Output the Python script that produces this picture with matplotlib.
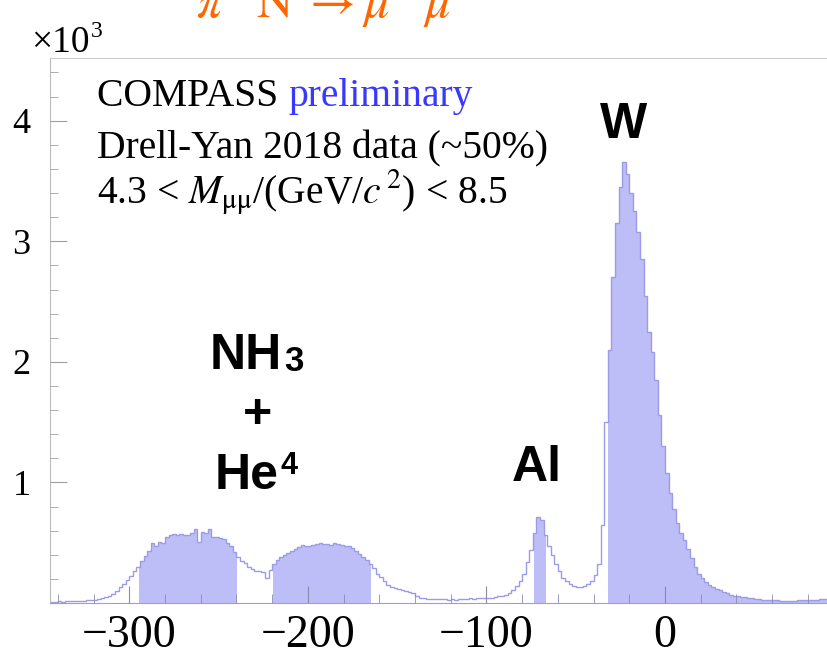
import numpy as np
import matplotlib
matplotlib.use('Agg')
import matplotlib.pyplot as plt
from matplotlib.ticker import MultipleLocator, FuncFormatter

# z vertex histogram, 2 cm bins from -344 to 92
bin_edges = np.arange(-344, 93, 2)
counts = [
    12, 10, 14, 11, 15, 13, 17, 15, 20, 18,
    24, 22, 28, 35, 42, 50, 62, 78, 100, 130,
    160, 190, 225, 262, 295, 345, 390, 430, 500, 475,
    510, 495, 550, 560, 572, 565, 575, 568, 560, 580,
    612, 505, 590, 578, 615, 548, 545, 538, 530, 500,
    470, 425, 380, 350, 330, 300, 285, 265, 262, 258,
    205, 270, 320, 360, 385, 400, 415, 435, 450, 465,
    480, 472, 470, 478, 492, 500, 488, 490, 485, 495,
    490, 480, 475, 470, 455, 430, 410, 385, 355, 320,
    290, 240, 215, 180, 150, 135, 125, 112, 105, 100,
    92, 80, 55, 45, 38, 32, 33, 30, 32, 30,
    31, 28, 32, 26, 30, 34, 32, 38, 36, 40,
    38, 42, 40, 45, 50, 55, 62, 70, 85, 105,
    140, 180, 240, 340, 440, 580, 712, 690, 560, 470,
    400, 320, 265, 210, 180, 160, 140, 130, 135, 140,
    155, 185, 230, 320, 650, 1500, 2100, 2700, 3150, 3450,
    3660, 3560, 3400, 3250, 3080, 2850, 2550, 2250, 2080, 1850,
    1560, 1300, 1080, 910, 780, 660, 580, 520, 450, 370,
    300, 240, 210, 175, 150, 135, 118, 105, 92, 82,
    70, 62, 56, 50, 47, 42, 38, 34, 30, 28,
    25, 24, 22, 21, 20, 19, 18, 20, 19, 22,
    21, 24, 23, 26, 28, 30, 31, 33,
]
counts = np.array(counts, dtype=float)

# target cells (cm): NH3 cell 1, NH3 cell 2, Al, W
target_lo = [-294.5, -219.5, -73.5, -32.0]
target_hi = [-239.5, -164.5, -66.5, 92.0]

W, H = 828, 657
fill_col = '#bdbdf7'
line_col = '#9c9ce6'

plt.rcParams['font.family'] = ['Liberation Serif', 'DejaVu Serif']
plt.rcParams['mathtext.fontset'] = 'stix'

fig = plt.figure(figsize=(W / 100, H / 100), dpi=100)


def fx(x):
    return x / W


def fy(y):
    return 1 - y / H


ax = fig.add_axes([fx(50), fy(603), (W - 50) / W, (603 - 58) / H])

# filled target regions
for lo, hi in zip(target_lo, target_hi):
    sel = (bin_edges[1:] > lo) & (bin_edges[:-1] < hi)
    idx = np.where(sel)[0]
    e = np.clip(bin_edges[idx[0]:idx[-1] + 2], lo, hi)
    ax.stairs(counts[idx], e, fill=True, color=fill_col, lw=0, zorder=1)

ax.stairs(counts, bin_edges, color=line_col, lw=1.0, zorder=2)

ax.set_xlim(-344.4, 91.3)
ax.set_ylim(0, 4520)

ax.xaxis.set_major_locator(MultipleLocator(100))
ax.xaxis.set_minor_locator(MultipleLocator(20))
ax.yaxis.set_major_locator(MultipleLocator(1000))
ax.yaxis.set_minor_locator(MultipleLocator(200))
ax.xaxis.set_major_formatter(FuncFormatter(lambda v, p: f'{int(round(v))}'.replace('-', '\u2212')))
ax.yaxis.set_major_formatter(FuncFormatter(lambda v, p: '' if v == 0 else f'{v / 1000:g}'))

ax.tick_params(axis='x', which='both', direction='in', colors='#8a8ab0', labelcolor='black',
               labelsize=33, pad=8, top=False)
ax.tick_params(axis='x', which='major', length=12)
ax.tick_params(axis='x', which='minor', length=6.5)
ax.tick_params(axis='y', which='both', direction='in', colors='#a0a0a0', labelcolor='black',
               labelsize=26, pad=14, right=False)
ax.tick_params(axis='y', which='major', length=12)
ax.tick_params(axis='y', which='minor', length=5.5)
ax.set_axisbelow(False)

ax.spines['right'].set_visible(False)
ax.spines['top'].set_color('#cccccc')
ax.spines['left'].set_color('#bbbbbb')
ax.spines['bottom'].set_color(line_col)

# title, cut at the top as in the original
fig.text(fx(196), fy(18), r'$\pi^{-}\,\mathrm{N}\;\rightarrow\mu^{+}\,\mu^{-}$', color='#ff6600',
         fontsize=36, va='baseline', ha='left')

# axis multiplier
t_x10 = fig.text(fx(31), fy(52), '×10', fontsize=27, va='baseline', ha='left')

txt_size = 28.5
t1 = fig.text(fx(97), fy(106), 'COMPASS ', fontsize=txt_size, va='baseline')
fig.canvas.draw()
bb = t1.get_window_extent()
fig.text(bb.x1 / W, fy(106), 'preliminary', fontsize=txt_size, va='baseline', color='#3838ff')
b_x10 = t_x10.get_window_extent()
fig.text(b_x10.x1 / W + 0.002, fy(37), '3', fontsize=17, va='baseline', ha='left')
fig.text(fx(97), fy(158), 'Drell-Yan 2018 data (~50%)', fontsize=txt_size, va='baseline')
fig.text(fx(97), fy(204), r'4.3 < $M_{\mathrm{μμ}}$/(GeV/$c^{\,2}$) < 8.5', fontsize=txt_size,
         va='baseline')

sans = ['Liberation Sans', 'DejaVu Sans']
fig.text(fx(624), fy(138), 'W', fontsize=36, weight='bold', family=sans, ha='center', va='baseline')
fig.text(fx(537), fy(481), 'Al', fontsize=36, weight='bold', family=sans, ha='center', va='baseline')
fig.text(fx(258), fy(428), '+', fontsize=36, weight='bold', family=sans, ha='center', va='baseline')

t_nh = fig.text(fx(210), fy(369), 'NH', fontsize=36, weight='bold', family=sans, va='baseline')
t_he = fig.text(fx(215), fy(489), 'He', fontsize=36, weight='bold', family=sans, va='baseline')
fig.canvas.draw()
b_nh = t_nh.get_window_extent()
b_he = t_he.get_window_extent()
fig.text(b_nh.x1 / W + 0.002, fy(371), '3', fontsize=25, weight='bold', family=sans, va='baseline')
fig.text(b_he.x1 / W + 0.002, fy(474), '4', fontsize=22, weight='bold', family=sans, va='baseline')

fig.savefig('out.png', dpi=100)
